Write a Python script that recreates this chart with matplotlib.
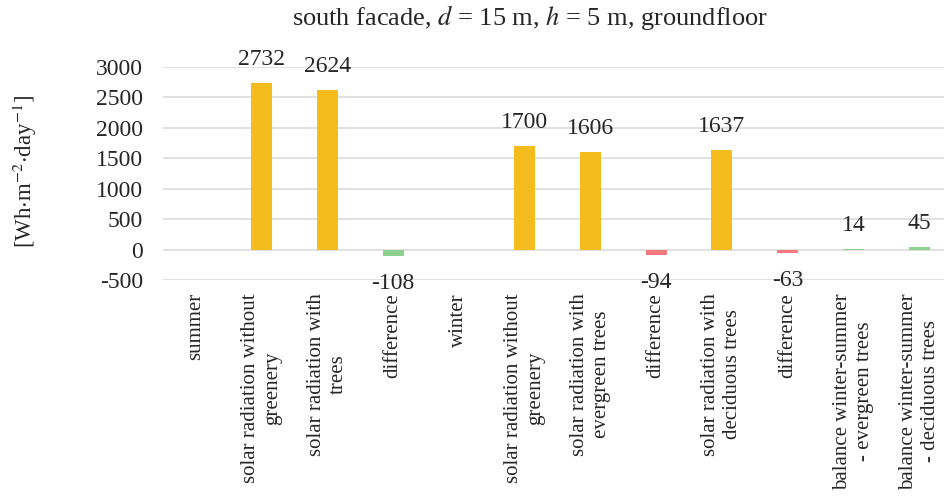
import numpy as np
import matplotlib.pyplot as plt

plt.rcParams['font.family'] = ['Liberation Serif', 'DejaVu Serif']
plt.rcParams['mathtext.fontset'] = 'stix'
plt.rcParams['axes.unicode_minus'] = False

# ===== data =====
categories = [
    "summer",
    "solar radiation without\ngreenery",
    "solar radiation with\ntrees",
    "difference",
    "winter",
    "solar radiation without\ngreenery",
    "solar radiation with\nevergreen trees",
    "difference",
    "solar radiation with\ndeciduous trees",
    "difference",
    "balance winter-summer\n- evergreen trees",
    "balance winter-summer\n- deciduous trees",
]
values = [np.nan, 2732, 2624, -108, np.nan, 1700, 1606, -94, 1637, -63, 14, 45]

YELLOW = "#F5BC1E"
GREEN = "#8FD18F"
RED = "#F27A7D"
colors = [YELLOW, YELLOW, YELLOW, GREEN, YELLOW, YELLOW, YELLOW, RED,
          YELLOW, RED, GREEN, GREEN]

fig = plt.figure(figsize=(9.45, 4.97), dpi=100)
ax = fig.add_axes([163 / 945, 1 - 280 / 497, (952 - 163) / 945, (280 - 66.7) / 497])

x = np.arange(len(categories))
bars = ax.bar(x, values, width=0.32, color=colors, zorder=3)

# value labels at the outer end of each bar
for xi, v in zip(x, values):
    if np.isnan(v):
        continue
    off = 17 if v >= 0 else -19.5
    ax.annotate(f"{v:.0f}", (xi, v), xytext=(0, off), textcoords="offset points",
                ha="center", va="center", fontsize=17, color="#262626")

ax.set_xlim(-0.5, len(categories) - 0.5)
ax.set_ylim(-500, 3000)
ax.set_yticks(np.arange(-500, 3001, 500))
ax.yaxis.grid(True, color="#D9D9D9", linewidth=1.1, zorder=0)
ax.set_axisbelow(True)
for s in ax.spines.values():
    s.set_visible(False)

ax.set_xticks(x)
ax.set_xticklabels(categories, rotation=90, fontsize=15, multialignment="center",
                   linespacing=1.2, color="#262626")
ax.tick_params(axis="x", length=0, pad=9.4)
ax.tick_params(axis="y", length=0, pad=14.4, labelsize=17, labelcolor="#262626")

fig.text(530 / 945, 1 - 17 / 497, r"south facade, $d$ = 15 m, $h$ = 5 m, groundfloor",
         ha="center", va="center", fontsize=19, color="#262626")
fig.text(25 / 945, 1 - 171.5 / 497, r"[Wh$\cdot$m$^{-2}$$\cdot$day$^{-1}$]",
         rotation=90, ha="center", va="center", fontsize=16.5, color="#262626")

fig.savefig("out.png", dpi=100)
